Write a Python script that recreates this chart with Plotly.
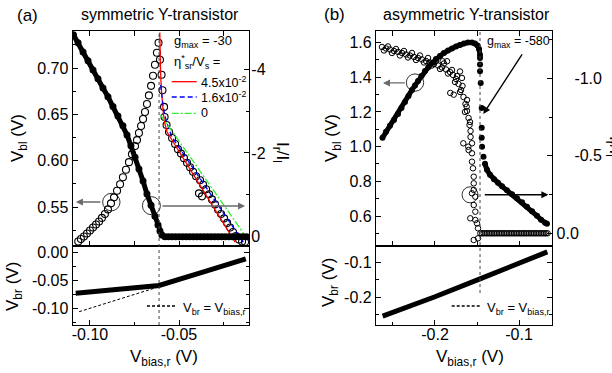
import plotly.graph_objects as go

# ---------------- Panel (a): symmetric Y-transistor ----------------
# open circles: V_bl (left axis)
a_open_x = [-0.1066, -0.1051, -0.1034, -0.1017, -0.1000, -0.0983, -0.0966, -0.0949, -0.0933, -0.0916,
            -0.0899, -0.0882, -0.0865, -0.0848, -0.0831, -0.0815, -0.0798, -0.0781, -0.0764, -0.0747,
            -0.0736, -0.0725, -0.0713, -0.0702, -0.0691, -0.0680, -0.0669, -0.0657, -0.0646, -0.0635,
            -0.0624, -0.0615,
            -0.0607, -0.0598, -0.0593, -0.0584, -0.0581, -0.0570, -0.0556, -0.0539, -0.0522, -0.0506,
            -0.0489, -0.0472, -0.0455, -0.0438, -0.0421, -0.0404, -0.0388, -0.0382, -0.0371, -0.0365,
            -0.0348, -0.0331, -0.0315, -0.0298, -0.0281, -0.0264, -0.0247, -0.0230, -0.0213, -0.0197,
            -0.0180, -0.0163, -0.0146, -0.0129]
a_open_vbl = [0.5128, 0.5155, 0.5182, 0.5215, 0.5247, 0.5280, 0.5312, 0.5345, 0.5383, 0.5426,
              0.5475, 0.5540, 0.5605, 0.5676, 0.5746, 0.5822, 0.5903, 0.5985, 0.6071, 0.6158,
              0.6223, 0.6299, 0.6375, 0.6451, 0.6526, 0.6613, 0.6705, 0.6808, 0.6917, 0.7036,
              0.7166, 0.7274,
              0.7090, 0.6928, 0.6760, 0.6581, 0.6472, 0.6386, 0.6310, 0.6245, 0.6180, 0.6125,
              0.6077, 0.6028, 0.5979, 0.5930, 0.5882, 0.5833, 0.5648, 0.5789, 0.5616, 0.5741,
              0.5692, 0.5638, 0.5583, 0.5529, 0.5475, 0.5426, 0.5378, 0.5329, 0.5280, 0.5231,
              0.5188, 0.5150, 0.5128, 0.5123]

# filled dots: I_r/I_l (right axis)
a_fill_x = [-0.1093, -0.1067, -0.1039, -0.1011, -0.0983, -0.0955, -0.0927, -0.0899, -0.0871, -0.0843,
            -0.0815, -0.0792, -0.0770, -0.0747, -0.0725, -0.0702, -0.0680, -0.0657, -0.0635, -0.0618,
            -0.0607, -0.0596, -0.0579,
            -0.056, -0.054, -0.052, -0.050, -0.048, -0.046, -0.044, -0.042, -0.040, -0.038, -0.036,
            -0.034, -0.032, -0.030, -0.028, -0.026, -0.024, -0.022, -0.020, -0.018, -0.016, -0.014, -0.012]
a_fill_ratio = [-4.82, -4.63, -4.41, -4.20, -3.98, -3.77, -3.55, -3.34, -3.11, -2.88,
                -2.65, -2.43, -2.17, -1.90, -1.62, -1.33, -1.02, -0.75, -0.49, -0.28,
                -0.14, -0.04, 0.0,
                0.0, 0.0, 0.0, 0.0, 0.0, 0.0, 0.0, 0.0, 0.0, 0.0, 0.0,
                0.0, 0.0, 0.0, 0.0, 0.0, 0.0, 0.0, 0.0, 0.0, 0.0, 0.0, 0.0]

# model curves for eta*_sr/V_s
a_fit45_x = [-0.0608, -0.0607, -0.0604, -0.0599, -0.0594, -0.0587, -0.0579, -0.0567, -0.0185]
a_fit45_v = [0.7383, 0.7198, 0.6982, 0.6765, 0.6602, 0.6494, 0.6396, 0.6310, 0.5121]
a_fit16_x = [-0.0603, -0.0597, -0.0588, -0.0573, -0.0559, -0.0541, -0.0139]
a_fit16_v = [0.6819, 0.6711, 0.6570, 0.6440, 0.6353, 0.6259, 0.5121]
a_fit0_x = [-0.0604, -0.0517, -0.0129]
a_fit0_v = [0.6494, 0.6259, 0.5193]
a_fit_names = ["4.5x10<sup>-2</sup>", "1.6x10<sup>-2</sup>", "0"]

# lower panel: V_br
a_vbr_x = [-0.1080, -0.0848, -0.0612, -0.0371, -0.0125]
a_vbr = [-0.0730, -0.0662, -0.0590, -0.0356, -0.0113]
a_diag_x = [-0.1061, -0.0600]
a_diag = [-0.1061, -0.0600]
a_threshold = -0.0612

# ---------------- Panel (b): asymmetric Y-transistor ----------------
# filled dots: V_bl (left axis)
b_rise_x = [-0.2625, -0.2583, -0.2536, -0.2488, -0.2440, -0.2399, -0.2357, -0.2315, -0.2274, -0.2238,
            -0.2202, -0.2161, -0.2119, -0.2077, -0.2036, -0.1988, -0.1940, -0.1893, -0.1845, -0.1798,
            -0.1750, -0.1702, -0.1655, -0.1607, -0.1560, -0.1524, -0.1494, -0.1476, -0.1464]
b_rise_v = [1.0507, 1.0853, 1.1199, 1.1544, 1.1890, 1.2236, 1.2582, 1.2928, 1.3274, 1.3533,
            1.3792, 1.4081, 1.4369, 1.4599, 1.4830, 1.5060, 1.5233, 1.5406, 1.5550, 1.5666,
            1.5781, 1.5867, 1.5954, 1.6012, 1.6012, 1.5954, 1.5839, 1.5637, 1.5291]
b_drop_x = [-0.1464, -0.1464, -0.1464, -0.1456, -0.1444, -0.1444, -0.1444, -0.1440, -0.1423]
b_drop_v = [1.5118, 1.4732, 1.4351, 1.3677, 1.2236, 1.1083, 1.0507, 0.9988, 0.9412]
b_tail_x = [-0.1405, -0.1381, -0.1345, -0.1298, -0.1250, -0.1202, -0.1143, -0.1083, -0.1024,
            -0.0964, -0.0905, -0.0845, -0.0786, -0.0738, -0.0690, -0.0667]
b_tail_v = [0.9008, 0.8663, 0.8374, 0.8115, 0.7913, 0.7711, 0.7481, 0.7250, 0.7020,
            0.6789, 0.6530, 0.6270, 0.6011, 0.5781, 0.5608, 0.5550]

# open circles: I_r/I_l (right axis)
b_band_x = [-0.2631, -0.2583, -0.2536, -0.2488, -0.2440, -0.2393, -0.2345, -0.2298, -0.2250, -0.2202,
            -0.2155, -0.2107, -0.2060, -0.2012, -0.1964, -0.1917, -0.1869, -0.1821, -0.1786, -0.1750,
            -0.1720, -0.1690, -0.1661, -0.1637, -0.1619, -0.1601, -0.1589, -0.1577]
b_band_ratio = [-1.2019, -1.1923, -1.1858, -1.1761, -1.1697, -1.1632, -1.1536, -1.1471, -1.1374, -1.1310,
                -1.1213, -1.1116, -1.1019, -1.0923, -1.0826, -1.0697, -1.0568, -1.0406, -1.0213, -0.9955,
                -0.9632, -0.9245, -0.8793, -0.8342, -0.7890, -0.7439, -0.6987, -0.6600]
b_scat_x = [-0.2607, -0.2560, -0.2512, -0.2464, -0.2417, -0.2369, -0.2321, -0.2274, -0.2226, -0.2179,
            -0.2131, -0.2083, -0.2036, -0.1988, -0.1940, -0.1893, -0.1845, -0.1798, -0.1762, -0.1738,
            -0.1702, -0.1673, -0.1643, -0.1619, -0.1583,
            -0.1908, -0.1857, -0.1702, -0.1679, -0.1818, -0.1777, -0.1623, -0.1577,
            -0.1663, -0.1604, -0.1560, -0.1600, -0.1560, -0.1560, -0.1548, -0.1539, -0.1539, -0.1539,
            -0.1560, -0.1520, -0.1539, -0.1520, -0.1580, -0.1520, -0.1500, -0.1488, -0.1539, -0.1488]
b_scat_ratio = [-1.1794, -1.2052, -1.1632, -1.1890, -1.1471, -1.1761, -1.1342, -1.1632, -1.1181, -1.1471,
                -1.1019, -1.1310, -1.0826, -1.1116, -1.0600, -1.0955, -1.0310, -1.0536, -0.9761, -1.0148,
                -0.9116, -0.9503, -0.7826, -0.8600, -0.7180,
                -1.1097, -1.1097, -1.0439, -1.0019, -0.9052, -0.8942, -0.8168, -0.6213,
                -0.5806, -0.5587, -0.5806, -0.5374, -0.5161, -0.4619, -0.4193, -0.3651, -0.3225, -0.2793,
                -0.2580, -0.2361, -0.1825, -0.1393, -0.0967, -0.0857, -0.0645, -0.0322, 0.0433, 0.0323]
b_flat_x = [-0.146, -0.144, -0.142, -0.140, -0.138, -0.136, -0.134, -0.132, -0.130, -0.128,
            -0.126, -0.124, -0.122, -0.120, -0.118, -0.116, -0.114, -0.112, -0.110, -0.108,
            -0.106, -0.104, -0.102, -0.100, -0.098, -0.096, -0.094, -0.092, -0.090, -0.088,
            -0.086, -0.084, -0.082, -0.080, -0.078, -0.076, -0.074, -0.072, -0.070, -0.068, -0.066]
b_flat_ratio = [0.0, 0.0, 0.0, 0.0, 0.0, 0.0, 0.0, 0.0, 0.0, 0.0,
                0.0, 0.0, 0.0, 0.0, 0.0, 0.0, 0.0, 0.0, 0.0, 0.0,
                0.0, 0.0, 0.0, 0.0, 0.0, 0.0, 0.0, 0.0, 0.0, 0.0,
                0.0, 0.0, 0.0, 0.0, 0.0, 0.0, 0.0, 0.0, 0.0, 0.0, 0.0]

# lower panel: V_br
b_vbr_x = [-0.2623, -0.2000, -0.1464, -0.1000, -0.0663]
b_vbr = [-0.2534, -0.1983, -0.1470, -0.1000, -0.0697]
b_threshold = -0.1464

# ---------------- tick labels ----------------
FS = "\u2007"  # figure space, keeps the offset of the upper right-axis labels in (b)
a_x_ticks, a_x_text = [-0.10, -0.05], ["-0.10", "-0.05"]
a_x_minor = [-0.075, -0.025]
a_vbl_ticks, a_vbl_text = [0.55, 0.60, 0.65, 0.70], ["0.55", "0.60", "0.65", "0.70"]
a_vbl_minor = [0.525, 0.575, 0.625, 0.675, 0.725]
a_ratio_ticks, a_ratio_text = [-4, -2, 0], ["-4", "-2", "0"]
a_ratio_minor = [-3, -1]
a_vbr_ticks, a_vbr_text = [0.0, -0.05, -0.10], ["0.00", "-0.05", "-0.10"]
a_vbr_minor = [-0.025, -0.075, -0.125]
b_x_ticks, b_x_text = [-0.2, -0.1], ["-0.2", "-0.1"]
b_x_minor = [-0.25, -0.15]
b_vbl_ticks, b_vbl_text = [0.6, 0.8, 1.0, 1.2, 1.4, 1.6], ["0.6", "0.8", "1.0", "1.2", "1.4", "1.6"]
b_vbl_minor = [0.5, 0.7, 0.9, 1.1, 1.3, 1.5]
b_ratio_ticks, b_ratio_text = [-1.0, -0.5, 0.0], [FS + FS + "-1.0", FS + FS + "-0.5", "0.0"]
b_ratio_minor = [-1.25, -0.75, -0.25]
b_vbr_ticks, b_vbr_text = [-0.1, -0.2], ["-0.1", "-0.2"]
b_vbr_minor = [-0.15, -0.25]

FONT = "Arial, Liberation Sans, Helvetica, sans-serif"
W, H = 612, 373

fig = go.Figure()

# ---- panel (a) traces ----
fig.add_trace(go.Scatter(x=a_open_x, y=a_open_vbl, mode="markers", xaxis="x", yaxis="y",
                         marker=dict(symbol="circle-open", size=7, color="black", line=dict(width=1.1))))
for fx, fv, col, dash, nm in [(a_fit45_x, a_fit45_v, "#ff0000", "solid", a_fit_names[0]),
                              (a_fit16_x, a_fit16_v, "#0000ff", "5px,3px", a_fit_names[1]),
                              (a_fit0_x, a_fit0_v, "#33ee33", "7px,2px,2px,2px", a_fit_names[2])]:
    fig.add_trace(go.Scatter(x=fx, y=fv, mode="lines", xaxis="x", yaxis="y", name=nm,
                             line=dict(color=col, width=1.3, dash=dash)))
fig.add_trace(go.Scatter(x=a_fill_x, y=a_fill_ratio, mode="lines+markers", xaxis="x", yaxis="y2",
                         line=dict(color="black", width=5),
                         marker=dict(symbol="circle", size=7, color="black")))
fig.add_trace(go.Scatter(x=a_diag_x, y=a_diag, mode="lines", xaxis="x2", yaxis="y3",
                         line=dict(color="black", width=1, dash="3px,2px")))
fig.add_trace(go.Scatter(x=a_vbr_x, y=a_vbr, mode="lines", xaxis="x2", yaxis="y3",
                         line=dict(color="black", width=5)))

# ---- panel (b) traces ----
fig.add_trace(go.Scatter(x=b_rise_x, y=b_rise_v, mode="lines+markers", xaxis="x3", yaxis="y4",
                         line=dict(color="black", width=5), marker=dict(size=6, color="black")))
fig.add_trace(go.Scatter(x=b_drop_x, y=b_drop_v, mode="markers", xaxis="x3", yaxis="y4",
                         marker=dict(size=6, color="black")))
fig.add_trace(go.Scatter(x=b_tail_x, y=b_tail_v, mode="lines+markers", xaxis="x3", yaxis="y4",
                         line=dict(color="black", width=5), marker=dict(size=6, color="black")))
fig.add_trace(go.Scatter(x=b_band_x + b_scat_x + b_flat_x, y=b_band_ratio + b_scat_ratio + b_flat_ratio,
                         mode="markers", xaxis="x3", yaxis="y5",
                         marker=dict(symbol="circle-open", size=5.5, color="black", line=dict(width=1))))
fig.add_trace(go.Scatter(x=b_vbr_x, y=b_vbr, mode="lines", xaxis="x4", yaxis="y6",
                         line=dict(color="black", width=5)))

# ---- axes ----
XA = [72.7 / W, 249 / W]
XB = [376 / W, 552.3 / W]
YT = [1 - 246 / H, 1 - 31 / H]
YB = [1 - 325 / H, 1 - 246 / H]


def ax(vals, text, minor_vals, rng, **kw):
    d = dict(range=rng, tickmode="array", tickvals=vals, ticktext=text,
             showline=True, linecolor="black", linewidth=1.2,
             ticks="inside", ticklen=5, tickwidth=1.2, tickcolor="black",
             minor=dict(tickmode="array", tickvals=minor_vals, ticks="inside", ticklen=3,
                        tickwidth=1, tickcolor="black"),
             showgrid=False, zeroline=False, automargin=False,
             tickfont=dict(family=FONT, size=16, color="black"))
    d.update(kw)
    return d


a_xr = [-0.1097, -0.0107]
b_xr = [-0.2702, -0.0604]
fig.update_layout(
    xaxis=ax(a_x_ticks, a_x_text, a_x_minor, a_xr, domain=XA, anchor="y", showticklabels=False, mirror="allticks"),
    yaxis=ax(a_vbl_ticks, a_vbl_text, a_vbl_minor, [0.508, 0.740], domain=YT, anchor="x"),
    yaxis2=ax(a_ratio_ticks, a_ratio_text, a_ratio_minor, [0.22, -4.91], overlaying="y", side="right",
              anchor="x", ticklabelstandoff=-2),
    xaxis2=ax(a_x_ticks, a_x_text, a_x_minor, a_xr, domain=XA, anchor="y3", mirror=True, ticklabelstandoff=-5),
    yaxis3=ax(a_vbr_ticks, a_vbr_text, a_vbr_minor, [-0.130, 0.012], domain=YB, anchor="x2", mirror="allticks"),
    xaxis3=ax(b_x_ticks, b_x_text, b_x_minor, b_xr, domain=XB, anchor="y4", showticklabels=False, mirror="allticks"),
    yaxis4=ax(b_vbl_ticks, b_vbl_text, b_vbl_minor, [0.427, 1.667], domain=YT, anchor="x3"),
    yaxis5=ax(b_ratio_ticks, b_ratio_text, b_ratio_minor, [0.082, -1.305], overlaying="y4", side="right",
              anchor="x3"),
    xaxis4=ax(b_x_ticks, b_x_text, b_x_minor, b_xr, domain=XB, anchor="y6", mirror=True, ticklabelstandoff=-5),
    yaxis6=ax(b_vbr_ticks, b_vbr_text, b_vbr_minor, [-0.279, -0.053], domain=YB, anchor="x4", mirror="allticks"),
)

# ---- text ----
def P(px, py):
    return px / W, 1 - py / H


annotations = []


def txt(text, px, py, size=16, xanchor="center", angle=0):
    x, y = P(px, py)
    annotations.append(dict(text=text, x=x, y=y, xref="paper", yref="paper", showarrow=False,
                            xanchor=xanchor, yanchor="middle", textangle=angle,
                            font=dict(family=FONT, size=size, color="black")))


txt("(a)", 27, 15, 17)
txt("symmetric Y-transistor", 160, 14, 16)
txt("(b)", 334.5, 14, 17)
txt("asymmetric Y-transistor", 466, 14, 16)
txt("V<sub>bl</sub> (V)", 19, 138, 17, angle=-90)
txt("I<sub>r</sub>/I<sub>l</sub>", 281, 152, 17, angle=90)
txt("V<sub>br</sub> (V)", 14, 286, 17, angle=-90)
txt("V<sub>bias,r</sub> (V)", 164, 358, 17)
txt("V<sub>bl</sub> (V)", 333, 138, 17, angle=-90)
txt("I<sub>r</sub>/I<sub>l</sub>", 614, 146, 17, angle=90)
txt("V<sub>br</sub> (V)", 330, 283, 17, angle=-90)
txt("V<sub>bias,r</sub> (V)", 470, 358, 17)
txt("g<sub>max</sub> = -30", 171.7, 42, 13, xanchor="left")
txt("η<sup>*</sup><sub>sr</sub>/V<sub>s</sub> =", 171.7, 62, 13, xanchor="left")
for nm, py in zip(a_fit_names, [81.7, 97, 113.3]):
    txt(nm, 199, py, 12.5, xanchor="left")
txt("g<sub>max</sub> = -580", 485, 42, 12.5, xanchor="left")
txt("V<sub>br</sub> = V<sub>bias,r</sub>", 181, 308, 13, xanchor="left")
txt("V<sub>br</sub> = V<sub>bias,r</sub>", 485, 308, 13, xanchor="left")

# arrows (data coordinates)
GRAY = "#6a6a6a"
for xr_, yr_, x, y, axx, ayy, col in [
    ("x", "y", -0.1079, 0.5554, -0.0933, 0.5554, GRAY),
    ("x", "y", -0.0129, 0.5511, -0.0601, 0.5511, GRAY),
    ("x3", "y4", -0.2619, 1.3677, -0.2342, 1.3677, GRAY),
    ("x3", "y4", -0.0651, 0.7222, -0.1425, 0.7222, "black"),
    ("x3", "y4", -0.1425, 1.1890, -0.0952, 1.5406, "black"),
]:
    annotations.append(dict(x=x, y=y, xref=xr_, yref=yr_, ax=axx, ay=ayy, axref=xr_, ayref=yr_,
                            showarrow=True, arrowhead=2, arrowsize=1, arrowwidth=1.4,
                            arrowcolor=col, text=""))

shapes = []
# circles marking the curves
for xr_, yr_, cx, cy, dx, dy in [("x", "y", -0.0880, 0.5554, 0.00489, 0.00943),
                                  ("x", "y", -0.0655, 0.5515, 0.00506, 0.00976),
                                  ("x3", "y4", -0.2238, 1.3694, 0.01036, 0.0501),
                                  ("x3", "y4", -0.1583, 0.7222, 0.00952, 0.0461)]:
    shapes.append(dict(type="circle", xref=xr_, yref=yr_, x0=cx - dx, x1=cx + dx, y0=cy - dy, y1=cy + dy,
                       line=dict(color="black", width=0.8)))
# threshold lines
shapes.append(dict(type="line", xref="x", yref="paper", x0=a_threshold, x1=a_threshold,
                   y0=YB[0], y1=YT[1], line=dict(color="#444444", width=1, dash="dot")))
shapes.append(dict(type="line", xref="x3", yref="paper", x0=b_threshold, x1=b_threshold,
                   y0=1 - 293 / H, y1=YT[1], line=dict(color="#444444", width=1, dash="dot")))
# legend keys
for (x0, x1, py, col, dash) in [(171.7, 196.7, 81.7, "#ff0000", "solid"),
                                (171.7, 196.7, 97, "#0000ff", "5px,3px"),
                                (171.7, 196.7, 113.3, "#33ee33", "7px,2px,2px,2px"),
                                (147, 177, 306, "black", "3px,2px"),
                                (451.7, 481.7, 306, "black", "3px,2px")]:
    shapes.append(dict(type="line", xref="paper", yref="paper", x0=x0 / W, x1=x1 / W,
                       y0=1 - py / H, y1=1 - py / H, line=dict(color=col, width=1.3, dash=dash)))

fig.update_layout(width=W, height=H, margin=dict(l=0, r=0, t=0, b=0, autoexpand=False),
                  paper_bgcolor="white", plot_bgcolor="white", showlegend=False,
                  annotations=annotations, shapes=shapes,
                  font=dict(family=FONT, size=16, color="black"))

fig.write_html("out.html", config={"displayModeBar": False},
               post_script="document.body.style.margin='0';")
